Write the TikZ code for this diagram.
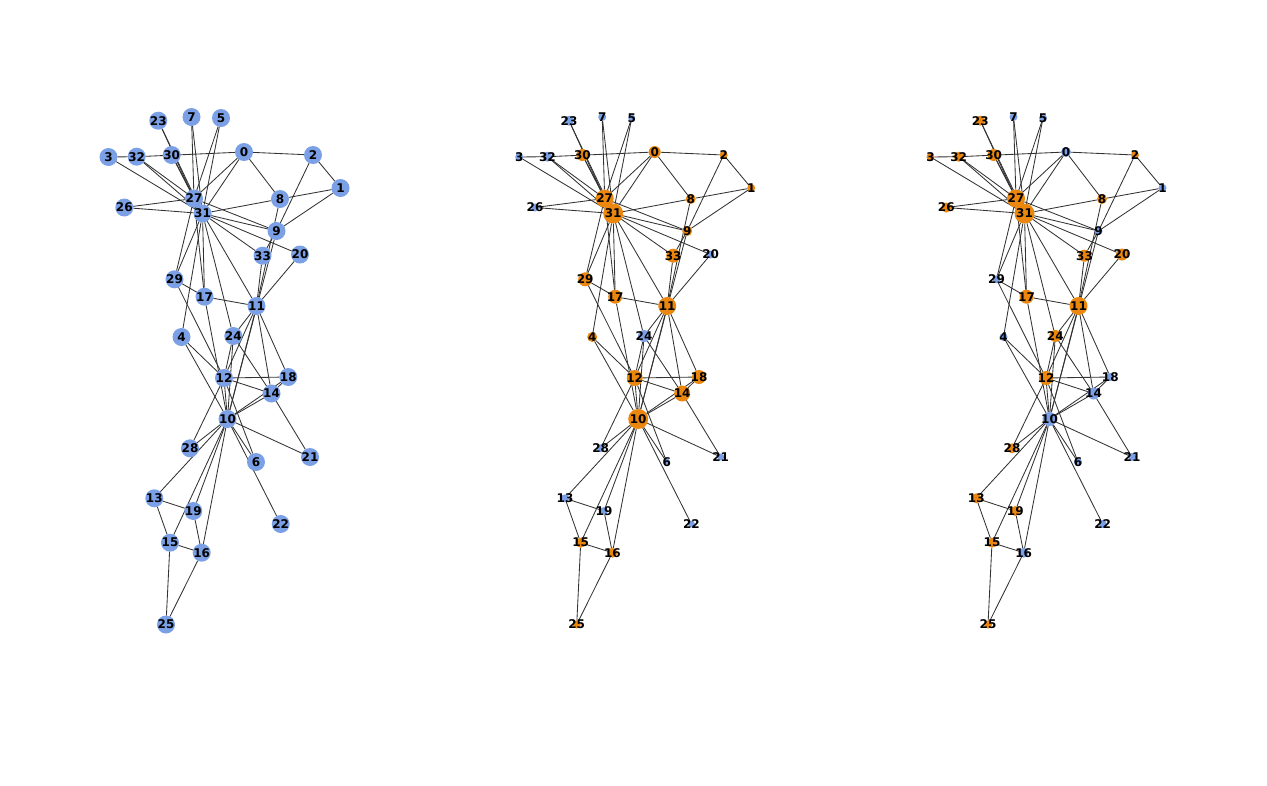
\documentclass[tikz,border=0pt]{standalone}
\usepackage{fontspec}
\setmainfont{DejaVu Sans}
\pgfdeclarelayer{bg}
\pgfsetlayers{bg,main}
\definecolor{nb}{HTML}{7BA0E6}
\definecolor{no}{HTML}{EB870E}
\tikzset{
  edge/.style={draw=black!80, line width=0.85pt},
  vtx/.style={circle, inner sep=0pt, outer sep=0pt, minimum size=#1, draw=none},
  lbl/.style={font=\fontsize{12}{12}\selectfont\bfseries, text=black, inner sep=0pt},
}
\def\edgelist{10/12,10/11,10/14,10/13,10/16,10/15,10/18,10/17,10/19,10/22,10/21,10/24,10/6,10/4,10/28,10/9,
12/11,12/14,12/18,12/24,12/6,12/4,12/28,12/29,
11/14,11/18,11/17,11/20,11/24,11/8,11/33,11/27,
14/18,14/21,14/24,13/15,13/19,16/15,16/19,16/25,15/25,
17/29,17/27,17/31,20/31,24/31,
30/27,30/31,23/27,23/31,7/27,7/31,4/31,5/27,5/31,26/27,26/31,
0/2,0/8,0/32,0/27,0/31,1/2,1/8,1/9,2/9,3/32,3/31,8/31,33/9,33/31,
32/27,32/31,29/27,29/31,9/27,9/31,27/31}
\begin{document}
\begin{tikzpicture}[x=1pt,y=-1pt]
\useasboundingbox (0,0) rectangle (1267,785);
% ---------- graph 1 ----------
\begin{scope}[name prefix=a-]
\foreach \n/\x/\y/\c/\r in {
0/244/152/nb/9, 1/340.5/188/nb/9, 2/313/155/nb/9, 3/108.5/157/nb/9, 4/181.5/337/nb/9,
5/221/118/nb/9, 6/256/462/nb/9, 7/191.5/117/nb/9, 8/280/199/nb/9, 9/276.5/231/nb/9,
10/227.5/419/nb/9, 11/256.5/306/nb/9, 12/224/378/nb/9, 13/154.3/498.3/nb/9, 14/271.5/393.5/nb/9,
15/170/542.7/nb/9, 16/201.7/552.7/nb/9, 17/204.5/296.7/nb/9, 18/288.3/377/nb/9, 19/193.3/511/nb/9,
20/300/254.5/nb/9, 21/310/457/nb/9, 22/280.7/524/nb/9, 23/158.3/120.7/nb/9, 24/233.3/336/nb/9,
25/166/624.5/nb/9, 26/124.3/207.5/nb/9, 27/194/198.5/nb/9, 28/190/448.3/nb/9, 29/174.5/279.3/nb/9,
30/171.7/155/nb/9, 31/202.5/213.5/nb/9, 32/136.7/156.7/nb/9, 33/262.5/255.7/nb/9}
{\node[vtx=2*\r pt, fill=\c] (\n) at (\x,\y) {};
 \node[lbl] (l\n) at (\n) {\n};}
\begin{pgfonlayer}{bg}
\foreach \a/\b in \edgelist {\draw[edge] (\a) -- (\b);}
\end{pgfonlayer}
\end{scope}
% ---------- graph 2 ----------
\begin{scope}[shift={(410.7,0)},name prefix=b-]
\foreach \n/\x/\y/\c/\r in {
0/244/152/no/6, 1/340.5/188/no/4, 2/313/155/no/4, 3/108.5/157/nb/4, 4/181.5/337/no/5,
5/221/118/nb/3.5, 6/256/462/nb/3.5, 7/191.5/117/nb/4, 8/280/199/no/5, 9/276.5/231/no/5,
10/227.5/419/no/10, 11/256.5/306/no/9, 12/224/378/no/8, 13/154.3/498.3/nb/4, 14/271.5/393.5/no/8,
15/170/542.7/no/5, 16/201.7/552.7/no/5, 17/204.5/296.7/no/7, 18/288.3/377/no/7, 19/193.3/511/nb/4,
20/300/254.5/nb/4, 21/310/457/nb/3.5, 22/280.7/524/nb/3.5, 23/158.3/120.7/nb/5, 24/233.3/336/nb/6,
25/166/624.5/no/4, 26/124.3/207.5/nb/4, 27/194/198.5/no/9, 28/190/448.3/nb/4, 29/174.5/279.3/no/7,
30/171.7/155/no/6, 31/202.5/213.5/no/10, 32/136.7/156.7/nb/5, 33/262.5/255.7/no/7}
{\node[vtx=2*\r pt, fill=\c] (\n) at (\x,\y) {};
 \node[lbl] (l\n) at (\n) {\n};}
\begin{pgfonlayer}{bg}
\foreach \a/\b in \edgelist {\draw[edge] (\a) -- (\b);}
\end{pgfonlayer}
\end{scope}
% ---------- graph 3 ----------
\begin{scope}[shift={(822,0)},name prefix=c-]
\foreach \n/\x/\y/\c/\r in {
0/244/152/nb/5, 1/340.5/188/nb/4, 2/313/155/no/4, 3/108.5/157/no/4, 4/181.5/337/nb/4,
5/221/118/nb/4, 6/256/462/nb/4, 7/191.5/117/nb/4, 8/280/199/no/5, 9/276.5/231/nb/4,
10/227.5/419/nb/7, 11/256.5/306/no/9, 12/224/378/no/7, 13/154.3/498.3/no/5, 14/271.5/393.5/nb/6,
15/170/542.7/no/5, 16/201.7/552.7/nb/5, 17/204.5/296.7/no/7, 18/288.3/377/nb/4, 19/193.3/511/no/5,
20/300/254.5/no/6, 21/310/457/nb/4, 22/280.7/524/nb/4, 23/158.3/120.7/no/5, 24/233.3/336/no/6,
25/166/624.5/no/4, 26/124.3/207.5/no/5, 27/194/198.5/no/9, 28/190/448.3/no/5, 29/174.5/279.3/nb/4,
30/171.7/155/no/6, 31/202.5/213.5/no/10, 32/136.7/156.7/no/5, 33/262.5/255.7/no/6}
{\node[vtx=2*\r pt, fill=\c] (\n) at (\x,\y) {};
 \node[lbl] (l\n) at (\n) {\n};}
\begin{pgfonlayer}{bg}
\foreach \a/\b in \edgelist {\draw[edge] (\a) -- (\b);}
\end{pgfonlayer}
\end{scope}
\end{tikzpicture}
\end{document}
